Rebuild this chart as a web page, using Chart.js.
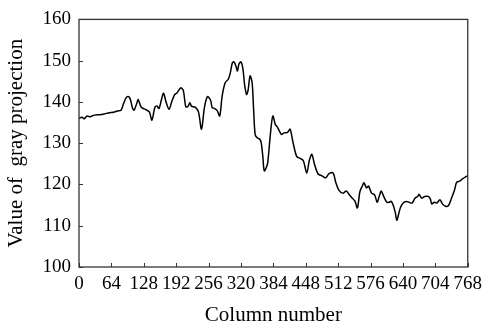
<!DOCTYPE html>
<html>
<head>
<meta charset="utf-8">
<script src="https://cdn.jsdelivr.net/npm/chart.js@4.4.1/dist/chart.umd.min.js"></script>
<style>
  html, body { margin: 0; padding: 0; background: #fff; }
  #wrap { width: 488px; height: 328px; }
</style>
</head>
<body>
<div id="wrap"><canvas id="chart" width="488" height="328"></canvas></div>
<script>
// ----- data -----
const columns = [0, 6, 10, 16, 22, 30, 41, 50, 60, 68, 76, 83, 88, 93, 97, 101, 106, 109, 115, 117,
  123, 131, 139, 144, 150, 154, 158, 163, 167, 172, 178, 183, 189, 193, 201, 206, 211, 215, 219, 222,
  230, 236, 242, 248, 254, 260, 263, 268, 273, 278, 283, 289, 295, 299, 303, 306, 310, 313, 316, 320,
  324, 327, 331, 334, 338, 342, 345, 348, 352, 357, 360, 363, 366, 371, 373, 379, 383, 388, 392, 400,
  405, 412, 417, 423, 430, 437, 443, 450, 455, 460, 465, 472, 480, 487, 494, 502, 507, 513, 521, 528,
  534, 539, 545, 550, 555, 560, 563, 568, 572, 578, 584, 589, 593, 597, 602, 608, 613, 617, 621, 625,
  628, 632, 636, 642, 647, 652, 658, 664, 669, 672, 677, 683, 690, 694, 697, 702, 707, 713, 718, 724,
  730, 736, 742, 746, 752, 757, 763, 768];
const grayValues = [136.0, 136.3, 135.9, 136.6, 136.4, 136.8, 136.9, 137.1, 137.4, 137.5, 137.8, 138.0, 139.6, 141.0, 141.3, 140.8, 138.4, 138.0, 140.0, 140.6,
  138.7, 138.2, 137.6, 135.6, 138.7, 139.0, 138.4, 140.6, 142.1, 140.0, 138.2, 140.0, 141.8, 142.1, 143.4, 142.8, 138.8, 138.9, 139.8, 139.0,
  138.7, 137.6, 133.4, 138.8, 141.3, 140.4, 138.7, 138.4, 137.9, 136.6, 141.6, 144.7, 145.5, 147.1, 149.5, 149.7, 148.7, 147.5, 149.2, 149.7,
  147.9, 144.3, 141.8, 142.8, 146.3, 144.7, 138.0, 132.1, 131.3, 131.0, 130.1, 127.0, 123.3, 124.4, 125.4, 133.3, 136.6, 134.5, 133.9, 132.1,
  132.5, 132.6, 133.4, 130.1, 126.8, 126.3, 125.8, 122.8, 125.8, 127.3, 125.0, 122.6, 122.1, 121.6, 122.6, 122.8, 120.6, 118.7, 117.9, 118.4,
  117.5, 116.8, 116.0, 114.3, 118.3, 119.7, 120.4, 119.2, 119.6, 117.9, 117.5, 115.7, 117.1, 118.4, 117.1, 115.7, 115.7, 115.9, 114.9, 113.1,
  111.3, 113.1, 114.7, 115.7, 115.9, 115.7, 115.5, 116.7, 117.1, 117.6, 116.7, 117.1, 117.1, 116.5, 115.3, 115.7, 115.5, 116.3, 115.3, 114.7,
  114.9, 116.7, 118.7, 120.5, 120.8, 121.3, 121.8, 122.1];
const xTicks = [0, 64, 128, 192, 256, 320, 384, 448, 512, 576, 640, 704, 768];
const yTicks = [100, 110, 120, 130, 140, 150, 160];

const serif = "'Liberation Serif', 'DejaVu Serif', serif";

// cadre + petites graduations vers l'intérieur
const framePlugin = {
  id: 'frame',
  afterDatasetsDraw(chart) {
    const { ctx, chartArea: a, scales } = chart;
    ctx.save();
    ctx.strokeStyle = '#333';
    ctx.lineWidth = 1.3;
    ctx.strokeRect(a.left, a.top, a.right - a.left, a.bottom - a.top);
    ctx.lineWidth = 1;
    ctx.beginPath();
    xTicks.forEach(v => {
      const px = Math.round(scales.x.getPixelForValue(v)) + 0.5;
      ctx.moveTo(px, a.bottom);
      ctx.lineTo(px, a.bottom - 4);
    });
    yTicks.forEach(v => {
      const py = Math.round(scales.y.getPixelForValue(v)) + 0.5;
      ctx.moveTo(a.left, py);
      ctx.lineTo(a.left + 4, py);
    });
    ctx.stroke();
    ctx.restore();
  }
};

new Chart(document.getElementById('chart'), {
  type: 'line',
  data: {
    datasets: [{
      data: columns.map((c, i) => ({ x: c, y: grayValues[i] })),
      borderColor: '#000',
      borderWidth: 1.5,
      pointRadius: 0,
      tension: 0.3,
      fill: false
    }]
  },
  options: {
    responsive: false,
    animation: false,
    layout: { padding: { left: 0, top: 14, right: 15.5, bottom: 0 } },
    plugins: { legend: { display: false }, tooltip: { enabled: false } },
    scales: {
      x: {
        type: 'linear',
        min: 0,
        max: 768,
        afterBuildTicks: s => { s.ticks = xTicks.map(v => ({ value: v })); },
        afterFit: s => { s.height = 61; },
        grid: { display: false, drawTicks: false },
        border: { display: false },
        ticks: {
          autoSkip: false,
          maxRotation: 0,
          padding: 6,
          color: '#000',
          font: { family: serif, size: 19 }
        },
        title: {
          display: true,
          text: 'Column number',
          color: '#000',
          padding: { top: 0, bottom: 0 },
          font: { family: serif, size: 21 }
        }
      },
      y: {
        min: 100,
        max: 160,
        afterBuildTicks: s => { s.ticks = yTicks.map(v => ({ value: v })); },
        afterFit: s => { s.width = 79; },
        grid: { display: false, drawTicks: false },
        border: { display: false },
        ticks: {
          padding: 8,
          color: '#000',
          font: { family: serif, size: 19 }
        },
        title: {
          display: true,
          text: 'Value of  gray projection',
          color: '#000',
          padding: { top: 4, bottom: 0 },
          font: { family: serif, size: 21 }
        }
      }
    }
  },
  plugins: [framePlugin]
});
</script>
</body>
</html>
